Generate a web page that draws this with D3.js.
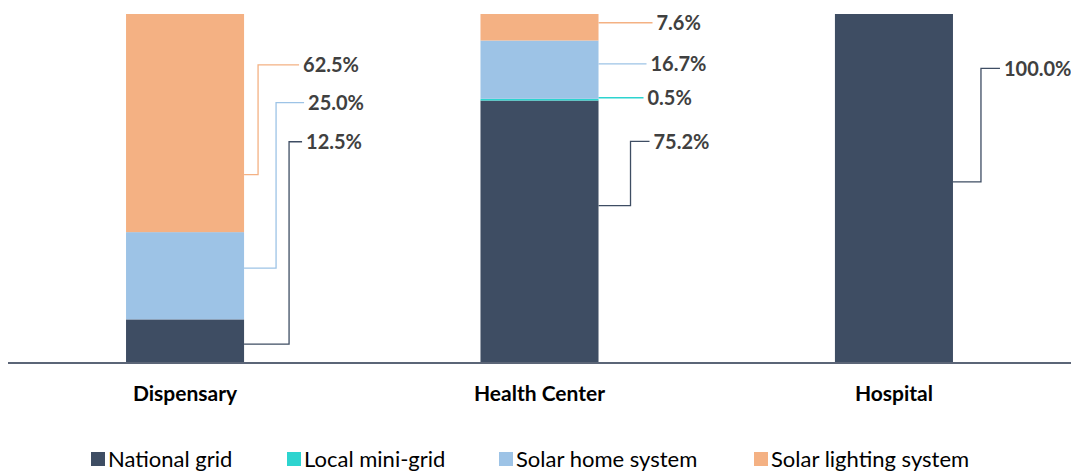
<!DOCTYPE html>
<html>
<head>
<meta charset="utf-8">
<script src="https://cdn.jsdelivr.net/npm/d3@7"></script>
<style>
  body { margin: 0; background: #fff; }
  svg { display: block; font-family: Lato, "Open Sans", sans-serif; }
</style>
</head>
<body>
<script>
var categories = ["Dispensary", "Health Center", "Hospital"];
var seriesNames = ["National grid", "Local mini-grid", "Solar home system", "Solar lighting system"];
var nationalGrid = [12.5, 75.2, 100.0];
var localMiniGrid = [0, 0.5, 0];
var solarHome = [25.0, 16.7, 0];
var solarLighting = [62.5, 7.6, 0];
var colors = ["#3e4d63", "#2dd4cf", "#9dc3e6", "#f4b183"];

// where each data label sits (pixels, relative to bar right edge), kept apart from the values
// [category, series, attach value, label value, elbow dx, line end dx]
var labelLayout = [
    [0, 3, 54.0, 85.4, 14, 55],
    [0, 2, 27.2, 74.6, 32, 60],
    [0, 0, 5.4, 63.4, 45, 58],
    [1, 3, 97.5, 97.5, null, 54],
    [1, 2, 85.7, 85.7, null, 48],
    [1, 1, 76.0, 76.0, null, 45],
    [1, 0, 45.1, 63.5, 32, 51],
    [2, 0, 51.9, 84.4, 28, 47]
];

var width = 1071, height = 473;
var svg = d3.select("body").append("svg")
    .attr("width", width)
    .attr("height", height);

var x = d3.scaleBand()
    .domain(categories)
    .range([8, 1071])
    .paddingInner(0.667)
    .paddingOuter(0.333);

var y = d3.scaleLinear()
    .domain([0, 100])
    .range([363, 14]);

var table = categories.map(function (c, i) {
    return {
        cat: c,
        "National grid": nationalGrid[i],
        "Local mini-grid": localMiniGrid[i],
        "Solar home system": solarHome[i],
        "Solar lighting system": solarLighting[i]
    };
});

var stacked = d3.stack().keys(seriesNames)(table);

svg.append("g")
    .selectAll("g")
    .data(stacked)
    .join("g")
    .attr("fill", function (d, i) { return colors[i]; })
    .selectAll("rect")
    .data(function (d) { return d; })
    .join("rect")
    .attr("x", function (d) { return x(d.data.cat); })
    .attr("y", function (d) { return y(d[1]); })
    .attr("width", x.bandwidth())
    .attr("height", function (d) { return y(d[0]) - y(d[1]); });

// baseline
svg.append("line")
    .attr("x1", 8).attr("x2", 1071)
    .attr("y1", y(0)).attr("y2", y(0))
    .attr("stroke", "#5b6577")
    .attr("stroke-width", 2);

// leader lines + labels
var lbl = svg.append("g");
labelLayout.forEach(function (l) {
    var ci = l[0], si = l[1];
    var value = stacked[si][ci].data[seriesNames[si]];
    var x0 = x(categories[ci]) + x.bandwidth();
    var ya = y(l[2]), yl = y(l[3]);
    var path = d3.path();
    path.moveTo(x0, ya);
    if (l[4] != null) {
        path.lineTo(x0 + l[4], ya);
        path.lineTo(x0 + l[4], yl);
    }
    path.lineTo(x0 + l[5], yl);
    lbl.append("path")
        .attr("d", path.toString())
        .attr("fill", "none")
        .attr("stroke", colors[si])
        .attr("stroke-width", 1.3);
    lbl.append("text")
        .attr("x", x0 + l[5] + 4)
        .attr("y", yl)
        .attr("dy", "0.36em")
        .style("font-size", "20px")
        .style("font-weight", "bold")
        .attr("fill", "#404040")
        .text(value.toFixed(1) + "%");
});

// category labels
svg.append("g")
    .selectAll("text")
    .data(categories)
    .join("text")
    .attr("x", function (d) { return x(d) + x.bandwidth() / 2; })
    .attr("y", 401)
    .attr("text-anchor", "middle")
    .style("font-size", "21px")
    .style("font-weight", "bold")
    .attr("fill", "#000")
    .text(function (d) { return d; });

// legend
var legendX = [91, 287, 499, 754];
var leg = svg.append("g")
    .selectAll("g")
    .data(seriesNames)
    .join("g")
    .attr("transform", function (d, i) { return "translate(" + legendX[i] + ",452)"; });
leg.append("rect")
    .attr("width", 14).attr("height", 14)
    .attr("fill", function (d, i) { return colors[i]; });
leg.append("text")
    .attr("x", 17).attr("y", 14.5)
    .style("font-size", "22px")
    .attr("fill", "#000")
    .text(function (d) { return d; });
</script>
</body>
</html>
